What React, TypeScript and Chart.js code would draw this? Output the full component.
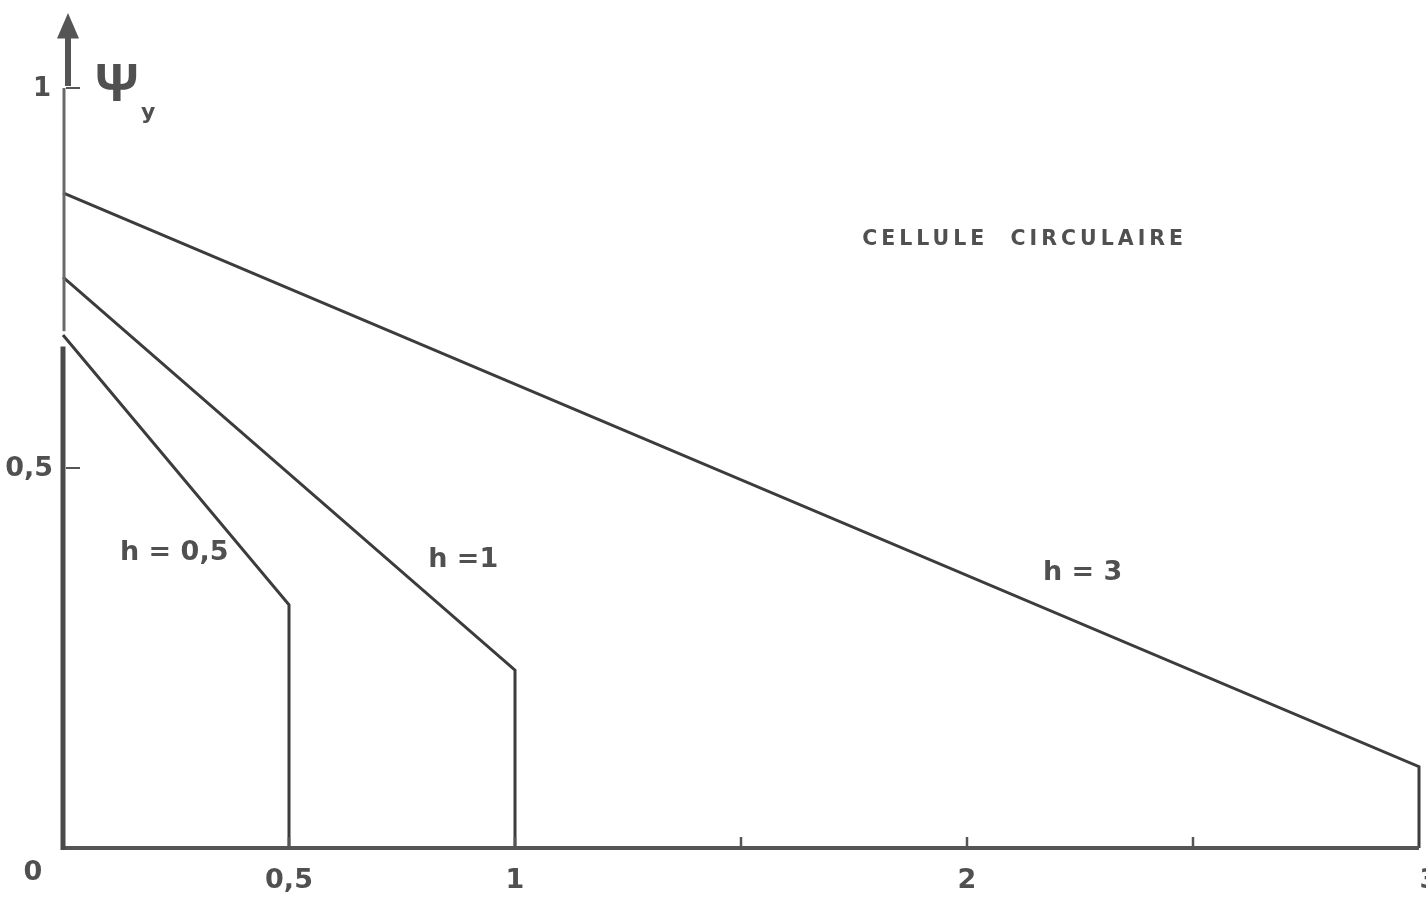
import React, { useEffect, useRef } from "react";
import { Chart, registerables } from "chart.js";

Chart.register(...registerables);

// Abscissa range and tick marks
const xMin = 0;
const xMax = 3;
const yMin = 0;
const yMax = 1.1;
const xMinorTicks = [0.5, 1, 1.5, 2, 2.5];
const xTickValues = [0.5, 1, 2, 3];
const xTickLabels = ["0,5", "1", "2", "3"];
const yTickValues = [0.5, 1];
const yTickLabels = ["0,5", "1"];

// Curves ψy(x) for each cell height h
const h05X = [0, 0.5, 0.5];
const h05Y = [0.675, 0.32, 0];
const h1X = [0, 1, 1];
const h1Y = [0.751, 0.234, 0];
const h3X = [0, 3, 3];
const h3Y = [0.862, 0.107, 0];

// Curve labels placed in data coordinates
const curveLabels = ["h = 0,5", "h =1", "h = 3"];
const curveLabelX = [0.126, 0.808, 2.168];
const curveLabelY = [0.388, 0.379, 0.362];

const titleText = "CELLULE  CIRCULAIRE";
const titleX = 1.768;
const titleY = 0.8;

const INK = "#3c3c3c";
const TEXT = "#505050";
const FONT = "'DejaVu Sans', 'Liberation Sans', sans-serif";

const toPoints = (xs: number[], ys: number[]) => xs.map((x, i) => ({ x, y: ys[i] }));

const axesPlugin = {
  id: "handDrawnAxes",
  afterDatasetsDraw(chart: any) {
    const { ctx, scales } = chart;
    const xs = scales.x;
    const ys = scales.y;
    const px = (v: number) => xs.getPixelForValue(v);
    const py = (v: number) => ys.getPixelForValue(v);
    const x0 = px(0);
    const y0 = py(0);

    ctx.save();
    ctx.lineCap = "butt";

    // x axis
    ctx.strokeStyle = "#555";
    ctx.lineWidth = 4;
    ctx.beginPath();
    ctx.moveTo(x0 - 2, y0);
    ctx.lineTo(px(3), y0);
    ctx.stroke();

    // x minor ticks
    ctx.lineWidth = 2.5;
    xMinorTicks.forEach((v) => {
      ctx.beginPath();
      ctx.moveTo(px(v), y0);
      ctx.lineTo(px(v), y0 - 11);
      ctx.stroke();
    });

    // y axis: heavy lower part, lighter upper part
    ctx.strokeStyle = "#4a4a4a";
    ctx.lineWidth = 5;
    ctx.beginPath();
    ctx.moveTo(x0, y0 + 2);
    ctx.lineTo(x0, py(0.66));
    ctx.stroke();
    ctx.strokeStyle = "#6a6a6a";
    ctx.lineWidth = 3;
    ctx.beginPath();
    ctx.moveTo(x0 + 1, py(0.68));
    ctx.lineTo(x0 + 1, py(1));
    ctx.stroke();

    // arrow shaft and head
    ctx.strokeStyle = "#555";
    ctx.lineWidth = 6;
    ctx.beginPath();
    ctx.moveTo(x0 + 5, py(1) - 2);
    ctx.lineTo(x0 + 5, py(1.07));
    ctx.stroke();
    ctx.fillStyle = "#555";
    ctx.beginPath();
    ctx.moveTo(x0 + 5, py(1.1) + 1);
    ctx.lineTo(x0 + 16, py(1.065));
    ctx.lineTo(x0 - 6, py(1.065));
    ctx.closePath();
    ctx.fill();

    // y ticks
    ctx.strokeStyle = "#555";
    ctx.lineWidth = 2;
    yTickValues.forEach((v) => {
      ctx.beginPath();
      ctx.moveTo(x0 + 3, py(v));
      ctx.lineTo(x0 + 17, py(v));
      ctx.stroke();
    });

    // tick labels
    ctx.fillStyle = TEXT;
    ctx.font = `bold 27px ${FONT}`;
    ctx.textBaseline = "alphabetic";
    ctx.textAlign = "center";
    ctx.fillText("0", x0 - 30, y0 + 32);
    xTickValues.forEach((v, i) => {
      ctx.fillText(xTickLabels[i], px(v) + (v === 3 ? 10 : 0), y0 + 40);
    });
    ctx.textAlign = "right";
    ctx.textBaseline = "middle";
    yTickValues.forEach((v, i) => {
      ctx.font = v === 1 ? `bold 26px ${FONT}` : `bold 27px ${FONT}`;
      ctx.fillText(yTickLabels[i], v === 1 ? x0 - 12 : x0 - 10, py(v) + 1);
    });

    // axis name ψy
    ctx.textAlign = "left";
    ctx.textBaseline = "alphabetic";
    ctx.font = `bold 54px 'Liberation Sans', sans-serif`;
    ctx.fillText("Ψ", x0 + 32, py(1) + 13);
    ctx.font = `bold 22px ${FONT}`;
    ctx.fillText("y", x0 + 78, py(1) + 31);

    // curve labels
    ctx.font = `bold 27px ${FONT}`;
    ctx.textBaseline = "middle";
    curveLabels.forEach((t, i) => {
      ctx.fillText(t, px(curveLabelX[i]), py(curveLabelY[i]));
    });

    // title
    ctx.font = `bold 20.5px ${FONT}`;
    (ctx as any).letterSpacing = "4px";
    ctx.fillText(titleText, px(titleX), py(titleY));
    ctx.restore();
  },
};

export default function App() {
  const ref = useRef<HTMLCanvasElement | null>(null);

  useEffect(() => {
    if (!ref.current) return;
    const line = (xs: number[], ys: number[], label: string) => ({
      label,
      data: toPoints(xs, ys),
      showLine: true,
      borderColor: INK,
      borderWidth: 3,
      pointRadius: 0,
      fill: false,
      clip: false as any,
      tension: 0,
    });
    const chart = new Chart(ref.current, {
      type: "scatter",
      data: {
        datasets: [
          line(h05X, h05Y, "h = 0,5"),
          line(h1X, h1Y, "h = 1"),
          line(h3X, h3Y, "h = 3"),
        ],
      },
      options: {
        responsive: false,
        animation: false,
        layout: { padding: { left: 63, right: 7, top: 12, bottom: 50 } },
        plugins: { legend: { display: false }, tooltip: { enabled: false } },
        scales: {
          x: { type: "linear", min: xMin, max: xMax, display: false },
          y: { type: "linear", min: yMin, max: yMax, display: false },
        },
      },
      plugins: [axesPlugin],
    });
    return () => chart.destroy();
  }, []);

  return (
    <div style={{ position: "absolute", left: 0, top: 0, width: 1426, height: 898, background: "#fff" }}>
      <canvas ref={ref} width={1426} height={898} />
    </div>
  );
}
